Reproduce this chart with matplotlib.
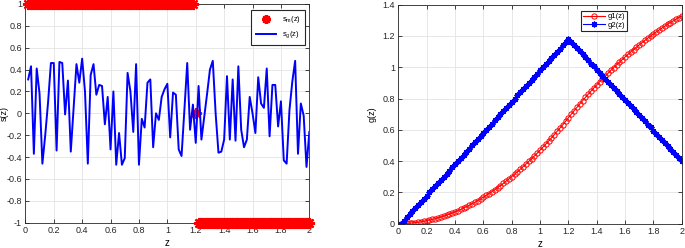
import numpy as np
import matplotlib
matplotlib.use("Agg")
import matplotlib.pyplot as plt
from matplotlib.ticker import FuncFormatter

plt.rcParams['font.family'] = ['Liberation Sans', 'DejaVu Sans']
plt.rcParams['mathtext.fontset'] = 'custom'
plt.rcParams['mathtext.rm'] = 'Liberation Sans'
plt.rcParams['mathtext.it'] = 'Liberation Sans'

# sample points z = 0.02 ... 2.00
z = np.round(np.arange(1, 101) * 0.02, 2)

# left panel: sign sequence and noisy sequence
s_m = [1] * 59 + [0] + [-1] * 40
s_g = [0.31, 0.43, -0.37, 0.41, 0.18, -0.46, -0.20, 0.10, 0.46, 0.46,
       -0.34, 0.47, 0.46, -0.01, 0.30, -0.35, 0.05, 0.45, 0.28, 0.50,
       0.20, -0.46, 0.35, 0.45, 0.17, 0.26, 0.25, -0.10, 0.15, -0.33,
       0.20, -0.47, -0.18, -0.47, -0.41, 0.37, 0.20, -0.17, 0.45, -0.47,
       -0.05, -0.13, 0.28, 0.31, -0.31, 0.00, -0.06, 0.15, 0.22, 0.27,
       -0.22, 0.19, 0.17, -0.33, -0.39, 0.03, 0.46, -0.15, 0.08, -0.27,
       0.25, -0.24, -0.03, 0.18, 0.40, 0.48, 0.00, -0.36, -0.35, -0.24,
       0.34, -0.24, 0.31, -0.25, 0.43, -0.15, -0.31, -0.24, 0.15, 0.00,
       -0.18, 0.33, 0.09, 0.05, 0.41, -0.21, 0.26, 0.26, -0.12, 0.11,
       -0.43, -0.46, 0.03, 0.29, 0.48, -0.37, 0.09, -0.02, -0.49, -0.17]

# right panel
g1 = [0.000, 0.001, 0.002, 0.003, 0.005, 0.007, 0.009, 0.012, 0.015, 0.019,
      0.023, 0.027, 0.032, 0.037, 0.042, 0.048, 0.054, 0.061, 0.068, 0.075,
      0.083, 0.091, 0.100, 0.108, 0.118, 0.127, 0.137, 0.147, 0.158, 0.169,
      0.181, 0.193, 0.205, 0.217, 0.230, 0.244, 0.257, 0.272, 0.286, 0.301,
      0.316, 0.332, 0.348, 0.364, 0.381, 0.398, 0.415, 0.433, 0.451, 0.470,
      0.489, 0.508, 0.528, 0.548, 0.569, 0.590, 0.611, 0.632, 0.654, 0.677,
      0.699, 0.722, 0.743, 0.765, 0.786, 0.807, 0.828, 0.848, 0.868, 0.887,
      0.907, 0.926, 0.944, 0.962, 0.981, 0.998, 1.016, 1.033, 1.049, 1.066,
      1.082, 1.098, 1.113, 1.128, 1.143, 1.158, 1.172, 1.186, 1.200, 1.213,
      1.226, 1.238, 1.251, 1.263, 1.275, 1.286, 1.297, 1.308, 1.318, 1.328]
g2 = [0.00, 0.02, 0.04, 0.06, 0.08, 0.10, 0.12, 0.14, 0.16, 0.18,
      0.20, 0.22, 0.24, 0.26, 0.28, 0.30, 0.32, 0.34, 0.36, 0.38,
      0.40, 0.42, 0.44, 0.46, 0.48, 0.50, 0.52, 0.54, 0.56, 0.58,
      0.60, 0.62, 0.64, 0.66, 0.68, 0.70, 0.72, 0.74, 0.76, 0.78,
      0.80, 0.82, 0.84, 0.86, 0.88, 0.90, 0.92, 0.94, 0.96, 0.98,
      1.00, 1.02, 1.04, 1.06, 1.08, 1.10, 1.12, 1.14, 1.16, 1.18,
      1.161, 1.141, 1.122, 1.102, 1.083, 1.063, 1.044, 1.024, 1.005, 0.985,
      0.966, 0.946, 0.927, 0.907, 0.888, 0.868, 0.849, 0.829, 0.810, 0.790,
      0.771, 0.751, 0.732, 0.712, 0.693, 0.673, 0.654, 0.634, 0.615, 0.595,
      0.576, 0.556, 0.537, 0.517, 0.498, 0.478, 0.459, 0.439, 0.420, 0.400]

x_ticks = np.round(np.arange(0, 11) * 0.2, 1)
left_yticks = np.round(np.arange(-5, 6) * 0.2, 1)
right_yticks = np.round(np.arange(0, 8) * 0.2, 1)

fig = plt.figure(figsize=(6.85, 2.48), dpi=100)
ax1 = fig.add_axes([0.037, 0.102, 0.4146, 0.882])
ax2 = fig.add_axes([0.5815, 0.098, 0.4137, 0.883])

fmt = FuncFormatter(lambda v, p: f'{v:g}')
axis_col = '#262626'
asterisk = (8, 2, 0)

ax1.plot(z, s_m, linestyle='none', marker=asterisk, color='red', clip_on=False,
         markersize=8, markeredgewidth=1.6, label=r'$\mathregular{s_m(z)}$', zorder=3)
ax1.plot(z, s_g, color='blue', linewidth=1.4, label=r'$\mathregular{s_g(z)}$', zorder=4)
ax1.set_xlim(0, 2)
ax1.set_ylim(-1, 1)
ax1.set_yticks(left_yticks)
ax1.set_ylabel('s(z)', fontsize=6.5)
ax1.yaxis.set_label_coords(-0.06, 0.5)
leg1 = ax1.legend(loc='upper right', fontsize=5.5, fancybox=False, edgecolor=axis_col,
                  framealpha=1, borderpad=0.6, handlelength=2.6, labelspacing=0.55,
                  markerscale=0.8, borderaxespad=0, bbox_to_anchor=(0.986, 0.973))
leg1.get_frame().set_linewidth(0.8)

ax2.plot(z, g1, color='red', linewidth=0.8, marker='o', markersize=3.8,
         markerfacecolor='none', markeredgewidth=0.7, label='g1(z)')
ax2.plot(z, g2, color='blue', linewidth=0.8, marker=asterisk, markersize=4.2,
         markeredgewidth=0.9, label='g2(z)')
ax2.set_xlim(0, 2)
ax2.set_ylim(0, 1.4)
ax2.set_yticks(right_yticks)
ax2.set_ylabel('g(z)', fontsize=6.5)
ax2.yaxis.set_label_coords(-0.075, 0.5)
leg2 = ax2.legend(loc='upper right', fontsize=5.5, fancybox=False, edgecolor=axis_col,
                  framealpha=1, borderpad=0.25, handlelength=2.8, labelspacing=0.15,
                  handletextpad=0.4, borderaxespad=0, bbox_to_anchor=(0.807, 0.971))
leg2.get_frame().set_linewidth(0.8)

for ax in (ax1, ax2):
    ax.set_xticks(x_ticks)
    ax.xaxis.set_major_formatter(fmt)
    ax.yaxis.set_major_formatter(fmt)
    ax.set_xlabel('z', fontsize=7, labelpad=2)
    ax.grid(True, color='#e3e3e3', linewidth=0.6)
    ax.set_axisbelow(True)
    ax.tick_params(direction='in', length=3, width=0.6, labelsize=6.5,
                   top=True, right=True, colors=axis_col, pad=2.5)
    for sp in ax.spines.values():
        sp.set_color(axis_col)
        sp.set_linewidth(0.6)

fig.savefig('out.png', dpi=100)
